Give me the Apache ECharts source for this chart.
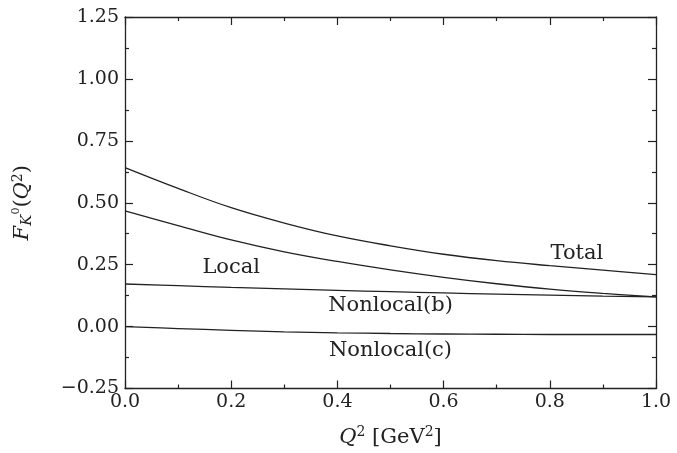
<!DOCTYPE html>
<html>
<head>
<meta charset="utf-8">
<script src="https://cdn.jsdelivr.net/npm/echarts@6/dist/echarts.min.js"></script>
<style>
  html, body { margin: 0; padding: 0; background: #fff; }
  #chart { width: 677px; height: 453px; }
</style>
</head>
<body>
<div id="chart"></div>
<script>
var q2 = [0.0, 0.1, 0.2, 0.3, 0.4, 0.5, 0.6, 0.7, 0.8, 0.9, 1.0];
var total = [0.642, 0.558, 0.480, 0.418, 0.366, 0.326, 0.292, 0.266, 0.246, 0.228, 0.210];
var local = [0.467, 0.408, 0.350, 0.302, 0.263, 0.229, 0.199, 0.173, 0.151, 0.134, 0.120];
var nonlocalB = [0.172, 0.165, 0.158, 0.152, 0.146, 0.141, 0.136, 0.131, 0.127, 0.123, 0.120];
var nonlocalC = [0.000, -0.008, -0.015, -0.021, -0.025, -0.028, -0.030, -0.031, -0.032, -0.032, -0.032];

// curve labels placed in data coordinates
var curveLabels = [
    { name: 'Total', coord: [0.851, 0.293] },
    { name: 'Local', coord: [0.20, 0.24] },
    { name: 'Nonlocal(b)', coord: [0.50, 0.084] },
    { name: 'Nonlocal(c)', coord: [0.50, -0.096] }
];

var font = 'DejaVu Serif';
var ink = '#222';

function pairs(ys) {
    return q2.map(function (x, i) { return [x, ys[i]]; });
}

function line(name, ys) {
    return {
        name: name,
        type: 'line',
        data: pairs(ys),
        smooth: 0.4,
        showSymbol: false,
        lineStyle: { color: ink, width: 1.3 },
        z: 3
    };
}

function frame(extra) {
    var base = {
        type: 'value',
        axisLine: { show: true, onZero: false, lineStyle: { color: ink, width: 1.3 } },
        axisTick: { show: true, inside: true, length: 8, lineStyle: { color: ink, width: 1.2 } },
        minorTick: { show: true, length: 4, splitNumber: 2, lineStyle: { color: ink, width: 1.2 } },
        splitLine: { show: false },
        axisLabel: { show: false }
    };
    return Object.assign(base, extra);
}

var chartDom = document.getElementById('chart');
var myChart = echarts.init(chartDom);

var option = {
    animation: false,
    grid: { left: 125, right: 21, top: 17, bottom: 62 },
    xAxis: [frame({
        min: 0, max: 1, interval: 0.2, position: 'bottom',
        axisLabel: {
            show: true, fontFamily: font, fontSize: 19, color: ink, margin: 4,
            formatter: function (v) { return v.toFixed(1); }
        },
        name: '{i|Q}{sup|2} [GeV{sup|2}]',
        nameLocation: 'middle', nameGap: 37,
        nameTextStyle: {
            fontFamily: font, fontSize: 21, color: ink,
            rich: {
                i: { fontFamily: font, fontSize: 21, fontStyle: 'italic', color: ink },
                sup: { fontFamily: font, fontSize: 14, color: ink, verticalAlign: 'top', padding: [0, 0, 10, 0] }
            }
        }
    }), frame({
        min: 0, max: 1, interval: 0.2, position: 'top'
    })],
    yAxis: [frame({
        min: -0.25, max: 1.25, interval: 0.25, position: 'left',
        axisLabel: {
            show: true, fontFamily: font, fontSize: 19, color: ink, margin: 6,
            formatter: function (v) {
                var s = Math.abs(v).toFixed(2);
                return v < 0 ? '\u2212' + s : s;
            }
        },
        name: '{i|F}{sub|K}{sup|0}({i|Q}{sup2|2})',
        nameLocation: 'middle', nameGap: 90, nameRotate: 90,
        nameTextStyle: {
            fontFamily: font, fontSize: 21, color: ink,
            rich: {
                i: { fontFamily: font, fontSize: 21, fontStyle: 'italic', color: ink },
                sub: { fontFamily: font, fontSize: 15, fontStyle: 'italic', color: ink, verticalAlign: 'bottom', padding: [7, 0, 0, 0] },
                sup: { fontFamily: font, fontSize: 11, color: ink, verticalAlign: 'top', padding: [0, 0, 5, 0] },
                sup2: { fontFamily: font, fontSize: 14, color: ink, verticalAlign: 'top', padding: [0, 0, 10, 0] }
            }
        }
    }), frame({
        min: -0.25, max: 1.25, interval: 0.25, position: 'right'
    })],
    series: [
        line('Total', total),
        line('Local', local),
        line('Nonlocal(b)', nonlocalB),
        line('Nonlocal(c)', nonlocalC),
        {
            type: 'scatter',
            data: [],
            markPoint: {
                symbol: 'circle', symbolSize: 0,
                label: {
                    show: true, position: 'inside',
                    fontFamily: font, fontSize: 21, color: ink,
                    formatter: function (p) { return p.name; }
                },
                data: curveLabels
            }
        }
    ]
};

myChart.setOption(option);
</script>
</body>
</html>
